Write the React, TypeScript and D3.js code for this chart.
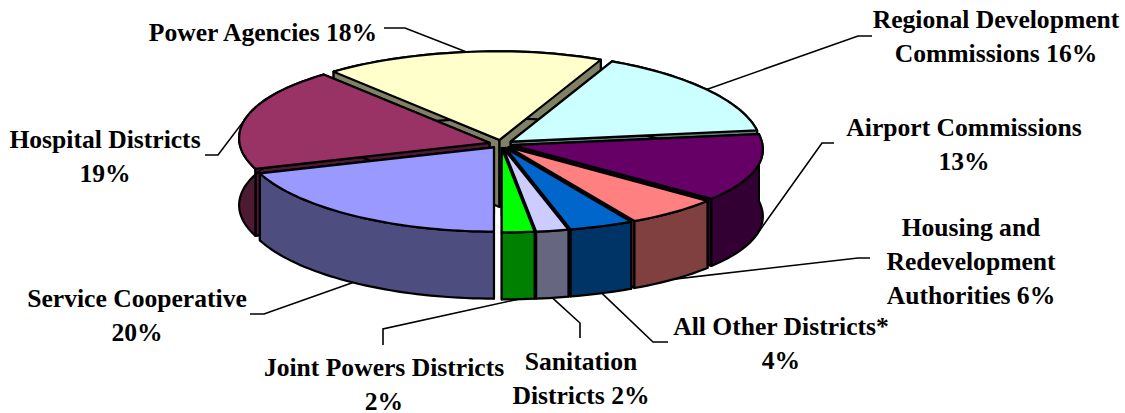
import React from "react";
import * as d3 from "d3";

const categories = ["Service Cooperative", "Hospital Districts", "Power Agencies", "Regional Development Commissions", "Airport Commissions", "Housing and Redevelopment Authorities", "All Other Districts*", "Sanitation Districts", "Joint Powers Districts"];
const shares = [20, 19, 18, 16, 13, 6, 4, 2, 2];
const topColors = ["#9999FF", "#993366", "#FFFFCC", "#CCFFFF", "#660066", "#FF8080", "#0066CC", "#CCCCFF", "#00FF00"];
const sideColors = ["#4D4D80", "#4D1A33", "#808066", "#668080", "#330033", "#804040", "#003366", "#666680", "#008000"];

// label text lines, with centre x and baseline y, elbow of leader, and which rim the leader ends on
const labelLayout: { lines: string[]; x: number; y: number; knee: [number, number][]; rim: "top" | "bottom" }[] = [
  { lines: ["Service Cooperative", "20%"], x: 137, y: 307, knee: [[250, 314], [264, 314]], rim: "bottom" },
  { lines: ["Hospital Districts", "19%"], x: 105, y: 148, knee: [[205, 155], [218, 155]], rim: "top" },
  { lines: ["Power Agencies 18%"], x: 263, y: 41, knee: [[384, 28], [405, 28]], rim: "top" },
  { lines: ["Regional Development", "Commissions 16%"], x: 996, y: 28, knee: [[872, 36], [858, 36]], rim: "top" },
  { lines: ["Airport Commissions", "13%"], x: 964, y: 136, knee: [[834, 143], [822, 143]], rim: "bottom" },
  { lines: ["Housing and", "Redevelopment", "Authorities 6%"], x: 971, y: 236, knee: [[870, 258], [858, 258]], rim: "bottom" },
  { lines: ["All Other Districts*", "4%"], x: 781, y: 335, knee: [[668, 342], [653, 342]], rim: "bottom" },
  { lines: ["Sanitation", "Districts 2%"], x: 581, y: 370, knee: [[580, 338], [580, 323]], rim: "bottom" },
  { lines: ["Joint Powers Districts", "2%"], x: 384, y: 376, knee: [[383, 345], [383, 329]], rim: "bottom" },
];

const cx = 501, cy = 144, rx = 250, ry = 86, depth = 67, explode = 0.048;
const shearK = 0.15, backStretch = 1.03, frontStretch = 0.98;

const pie = d3.pie<number>().sort(null).startAngle(Math.PI).endAngle(3 * Math.PI);
const arcs = pie(shares);

const rScaleX = d3.scaleLinear().domain([0, 1]).range([0, rx]);
const rScaleY = d3.scaleLinear().domain([0, 1]).range([0, ry]);

function project(a: number, r: number, ox: number, oy: number): [number, number] {
  const c = -Math.cos(a);
  const dy = c * rScaleY(r) * (c < 0 ? backStretch : frontStretch);
  const s = Math.sin(a);
  const dx = s * rScaleX(r) + shearK * dy * Math.abs(s);
  return [cx + ox + dx, cy + oy + dy];
}

const slices = arcs.map((d, i) => {
  const mid = (d.startAngle + d.endAngle) / 2;
  const ox = Math.sin(mid) * rScaleX(explode);
  const oy = -Math.cos(mid) * rScaleY(explode);
  const n = Math.max(4, Math.ceil((d.endAngle - d.startAngle) / 0.03));
  const rim = d3.range(n + 1).map((k) => project(d.startAngle + ((d.endAngle - d.startAngle) * k) / n, 1, ox, oy));
  const apex: [number, number] = [cx + ox, cy + oy];
  return { i, mid, ox, oy, rim, apex };
});

const order = d3.range(slices.length).sort((a, b) => d3.ascending(-Math.cos(slices[a].mid), -Math.cos(slices[b].mid)));
const closed = d3.line().curve(d3.curveLinearClosed);
const open = d3.line();
const down = (p: [number, number]): [number, number] => [p[0], p[1] + depth];

export default function App() {
  return (
    <svg width={1125} height={413} viewBox="0 0 1125 413" style={{ position: "absolute", left: 0, top: 0, display: "block", background: "#fff" }}>
      {labelLayout.map((l, i) => {
        const s = slices[i];
        const p = project(s.mid, 1, s.ox, s.oy);
        const end = l.rim === "bottom" ? down(p) : p;
        return <path key={i} d={open([...l.knee, end]) ?? ""} fill="none" stroke="#000" strokeWidth={1.6} />;
      })}
      {order.map((idx) => {
        const s = slices[idx];
        const first = s.rim[0], last = s.rim[s.rim.length - 1];
        const faces = [
          [s.apex, first, down(first), down(s.apex)],
          [s.apex, last, down(last), down(s.apex)],
          [...s.rim, ...s.rim.map(down).reverse()],
        ] as [number, number][][];
        return (
          <g key={idx} stroke="#000" strokeWidth={2.2} strokeLinejoin="round">
            {faces.map((f, k) => (
              <path key={k} d={closed(f) ?? ""} fill={sideColors[idx]} />
            ))}
            <path d={closed([s.apex, ...s.rim]) ?? ""} fill={topColors[idx]} />
          </g>
        );
      })}
      <g fontFamily="'Liberation Serif', serif" fontWeight="bold" fontSize={25.6} fill="#000" textAnchor="middle">
        {labelLayout.map((l, i) =>
          l.lines.map((t, k) => (
            <text key={`${i}-${k}`} x={l.x} y={l.y + k * 34}>
              {t}
            </text>
          ))
        )}
      </g>
    </svg>
  );
}
